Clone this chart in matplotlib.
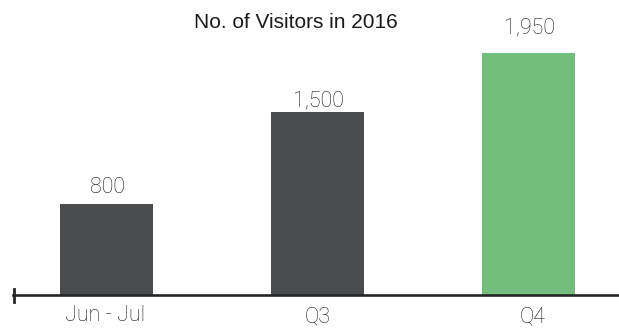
import matplotlib
matplotlib.use("Agg")
import matplotlib.pyplot as plt
from matplotlib.lines import Line2D

categories = ["Jun - Jul", "Q3", "Q4"]
visitors = [800, 1500, 1950]
title = "No. of Visitors in 2016"

bar_colors = ["#4a4b4d", "#4a4b4d", "#72bd7c"]
label_font = dict(family=["Roboto", "DejaVu Sans"], weight="light")
W, H = 619, 328

fig = plt.figure(figsize=(W / 100, H / 100), dpi=100)
ax = fig.add_axes([13 / W, 33 / H, 606 / W, 280 / H])

ax.bar(range(len(categories)), visitors, width=0.44, color=bar_colors, zorder=2)
ax.set_xlim(-0.443, 2.429)
ax.set_ylim(106, 2240)

for s in ["top", "right", "left"]:
    ax.spines[s].set_visible(False)
ax.spines["bottom"].set_linewidth(1.9)
ax.spines["bottom"].set_color("#262626")
ax.spines["bottom"].set_zorder(3)
ax.set_xticks([])
ax.set_yticks([])

# left end tick of the baseline
fig.add_artist(Line2D([13.5 / W, 13.5 / W], [1 - 289 / H, 1 - 302 / H],
                      color="#262626", lw=2.0))

value_offsets = [7.7, 4.3, 14.4]
for i, v in enumerate(visitors):
    ax.annotate(f"{v:,}", xy=(i, v), xytext=(0.5, value_offsets[i]),
                textcoords="offset points", ha="center", va="baseline",
                fontsize=15.5, color="#1c1c1c", **label_font)

cat_offsets = [(-1, -19.0), (0, -20.0), (3, -20.0)]
for i, c in enumerate(categories):
    ax.annotate(c, xy=(i, 106), xytext=cat_offsets[i],
                textcoords="offset points", ha="center", va="baseline",
                fontsize=15.5, color="#1c1c1c", annotation_clip=False,
                **label_font)

fig.text(295.5 / W, 1 - 28.3 / H, title, ha="center", va="baseline",
         fontsize=15, color="#1a1a1a",
         family=["Liberation Sans", "DejaVu Sans"])

fig.savefig("out.png", dpi=100)
